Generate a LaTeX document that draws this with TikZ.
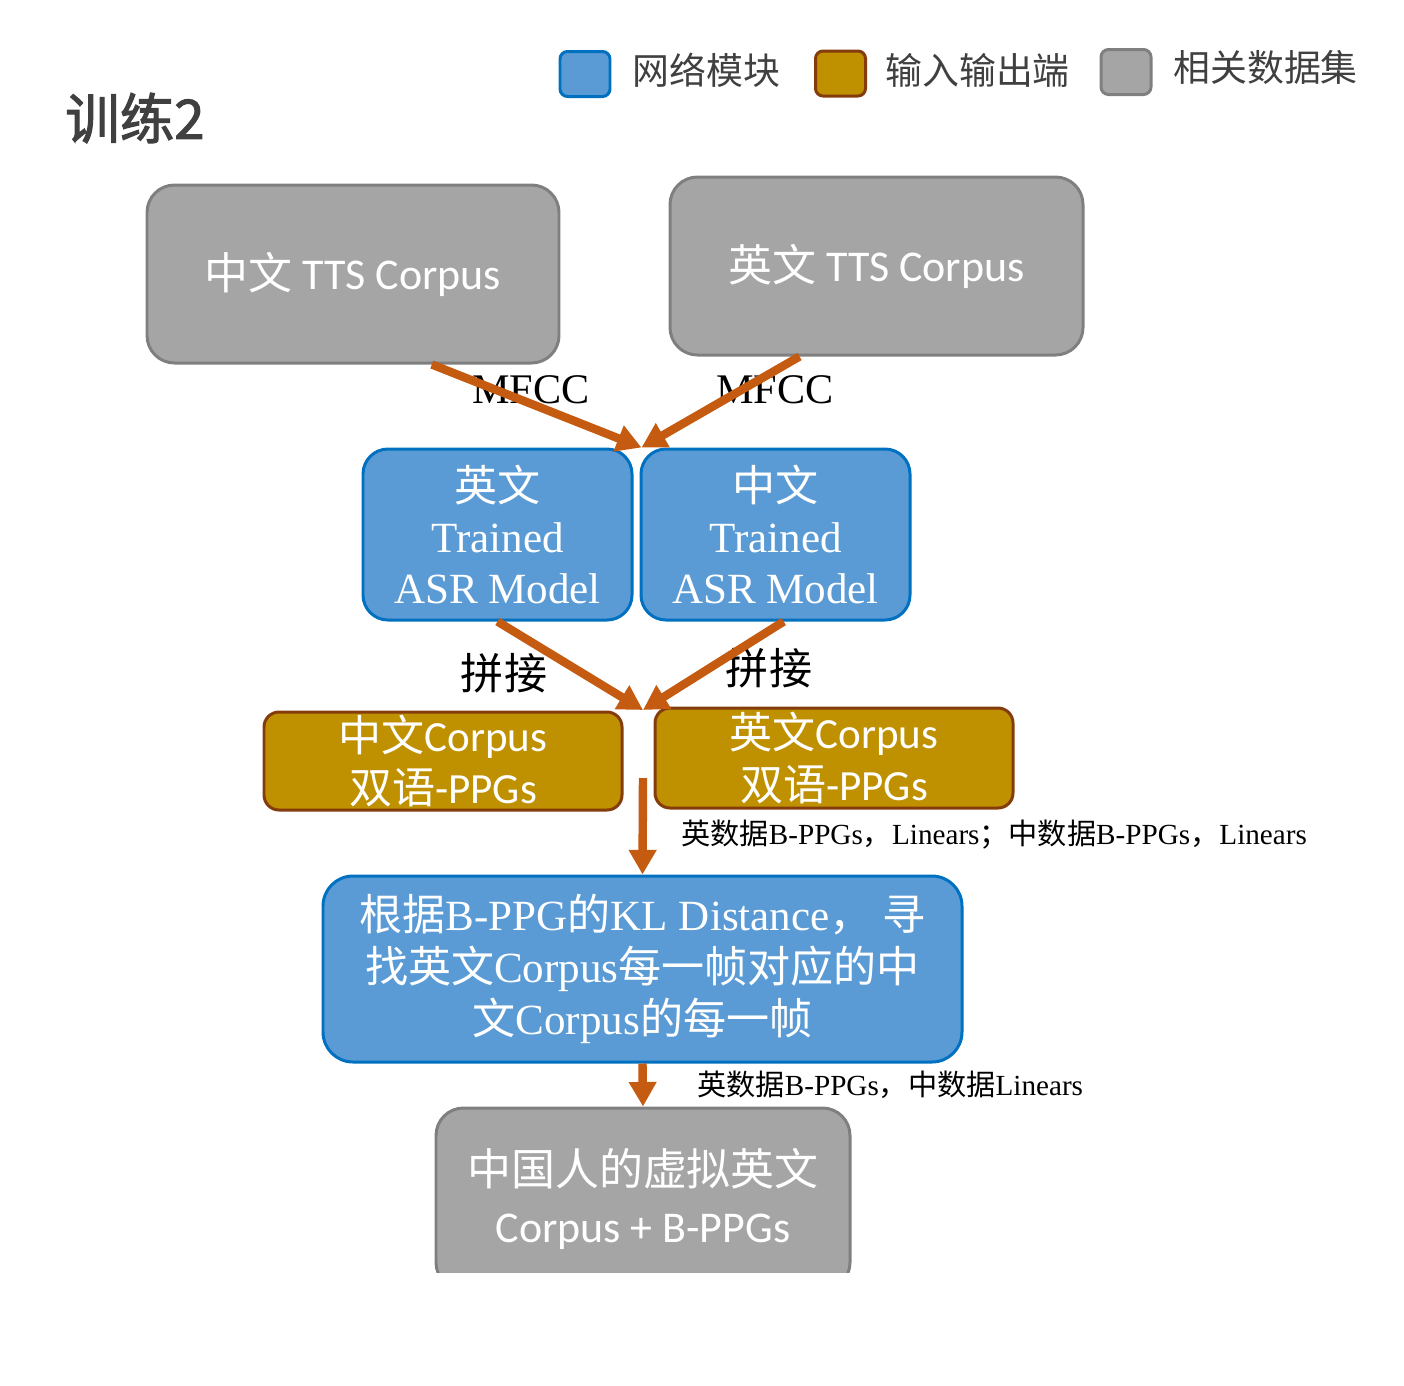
\documentclass[tikz,border=0pt]{standalone}
\usepackage{fontspec}
\setmainfont{Liberation Serif}
\newfontfamily\cjk{Noto Sans CJK SC}
\newfontfamily\calfont{Carlito}
\newfontfamily\titlefont[FakeBold=2]{Noto Sans CJK SC}
\newcommand\zh[1]{{\cjk #1}}
\usetikzlibrary{arrows.meta,calc}
\definecolor{netblue}{HTML}{5B9BD5}
\definecolor{netedge}{HTML}{0070C0}
\definecolor{portgold}{HTML}{BF9000}
\definecolor{portedge}{HTML}{843C0C}
\definecolor{datagray}{HTML}{A5A5A5}
\definecolor{dataedge}{HTML}{7F7F7F}
\definecolor{flow}{HTML}{C55A11}
\definecolor{ink}{HTML}{404040}
\tikzset{
 box/.style={rounded corners=0.55cm, line width=1.7pt, text=white, align=center, inner sep=0pt},
 databox/.style={box, fill=datagray, draw=dataedge, font=\calfont\fontsize{25}{32}\selectfont},
 netbox/.style={box, fill=netblue, draw=netedge, rounded corners=0.5cm, font=\fontsize{24.5}{29}\selectfont},
 portbox/.style={box, fill=portgold, draw=portedge, rounded corners=0.3cm, font=\calfont\fontsize{24.5}{29.5}\selectfont},
 flowarrow/.style={draw=flow, line width=4.8pt, -{Triangle[length=14pt,width=15pt]}},
 key/.style={rounded corners=0.15cm, line width=1.7pt, minimum width=1cm, minimum height=0.9cm},
 keytext/.style={anchor=west, inner sep=0pt, text=ink, font=\cjk\fontsize{21}{21}\selectfont},
 note/.style={anchor=west, inner sep=0pt, font=\fontsize{16.6}{17}\selectfont},
 edgelabel/.style={inner sep=0pt, font=\fontsize{24}{24}\selectfont}
}
\begin{document}
\begin{tikzpicture}
\useasboundingbox (0,0) rectangle (28.08,-27.7);
% legend and title
\node[key, fill=netblue, draw=netedge] (keynet) at (11.7,-1.48) {};
\node[keytext] (keynettxt) at (12.64,-1.4) {网络模块};
\node[key, fill=portgold, draw=portedge] (keyport) at (16.81,-1.47) {};
\node[keytext] (keyporttxt) at (17.7,-1.4) {输入输出端};
\node[key, fill=datagray, draw=dataedge] (keydata) at (22.52,-1.44) {};
\node[keytext] (keydatatxt) at (23.46,-1.34) {相关数据集};
\node[anchor=west, inner sep=0pt, text=ink, font=\titlefont\fontsize{31}{32}\selectfont] (title) at (1.3,-2.36) {训练2};

% corpora
\node[databox, minimum width=8.24cm, minimum height=3.56cm] (zhtts) at (7.06,-5.48) {\zh{中文} TTS Corpus};
\node[databox, minimum width=8.26cm, minimum height=3.56cm] (entts) at (17.53,-5.32) {\zh{英文} TTS Corpus};

% asr models
\node[netbox, minimum width=5.38cm, minimum height=3.42cm] (enasr) at (9.95,-10.69) {\zh{英文}\\Trained\\ASR Model};
\node[netbox, minimum width=5.38cm, minimum height=3.42cm] (zhasr) at (15.51,-10.69) {\zh{中文}\\Trained\\ASR Model};

% ppgs
\node[portbox, minimum width=7.16cm, minimum height=1.96cm] (zhppg) at (8.86,-15.22) {\zh{中文}Corpus\\\zh{双语}-PPGs};
\node[portbox, minimum width=7.16cm, minimum height=2.0cm] (enppg) at (16.68,-15.16) {\zh{英文}Corpus\\\zh{双语}-PPGs};

% matching
\node[netbox, rounded corners=0.6cm, minimum width=12.78cm, minimum height=3.72cm, font=\fontsize{24.5}{29.6}\selectfont] (match) at (12.85,-19.38) {\zh{根据}B-PPG\zh{的}KL Distance\zh{，\ 寻}\\\zh{找英文}Corpus\zh{每一帧对应的中}\\\zh{文}Corpus\zh{的每一帧}};

% output, cut off at the page edge
\begin{scope}
\clip (0,0) rectangle (28.08,-25.44);
\node[databox, minimum width=8.28cm, minimum height=3.64cm] (virt) at (12.86,-23.98) {\zh{中国人的虚拟英文}\\Corpus + B-PPGs};
\end{scope}

% labels
\node[edgelabel] (mfcczh) at (10.62,-7.8) {MFCC};
\node[edgelabel] (mfccen) at (15.5,-7.8) {MFCC};
\node[edgelabel, font=\cjk\fontsize{24.5}{25}\selectfont] (joinzh) at (10.08,-13.46) {拼接};
\node[edgelabel, font=\cjk\fontsize{24.5}{25}\selectfont] (joinen) at (15.38,-13.36) {拼接};
\node[note] (featnote) at (13.62,-16.7) {\zh{英数据}B-PPGs\zh{，}Linears\zh{；中数据}B-PPGs\zh{，}Linears};
\node[note] (outnote) at (13.94,-21.7) {\zh{英数据}B-PPGs\zh{，中数据}Linears};

% arrows
\coordinate (asrin) at (12.83,-8.95);
\coordinate (ppgin) at (12.86,-14.2);
\coordinate (ppgout) at (12.86,-15.56);
\draw[flowarrow] ($(zhtts.south west)!0.69!(zhtts.south east)$) -- (asrin);
\draw[flowarrow] ($(entts.south west)!0.315!(entts.south east)$) -- (asrin);
\draw[flowarrow] (enasr.south) -- (ppgin);
\draw[flowarrow] ($(zhasr.south west)!0.53!(zhasr.south east)$) -- (ppgin);
\draw[flowarrow] (ppgout) -- (match.north);
\draw[flowarrow] (match.south) -- (virt.north);
\end{tikzpicture}
\end{document}
